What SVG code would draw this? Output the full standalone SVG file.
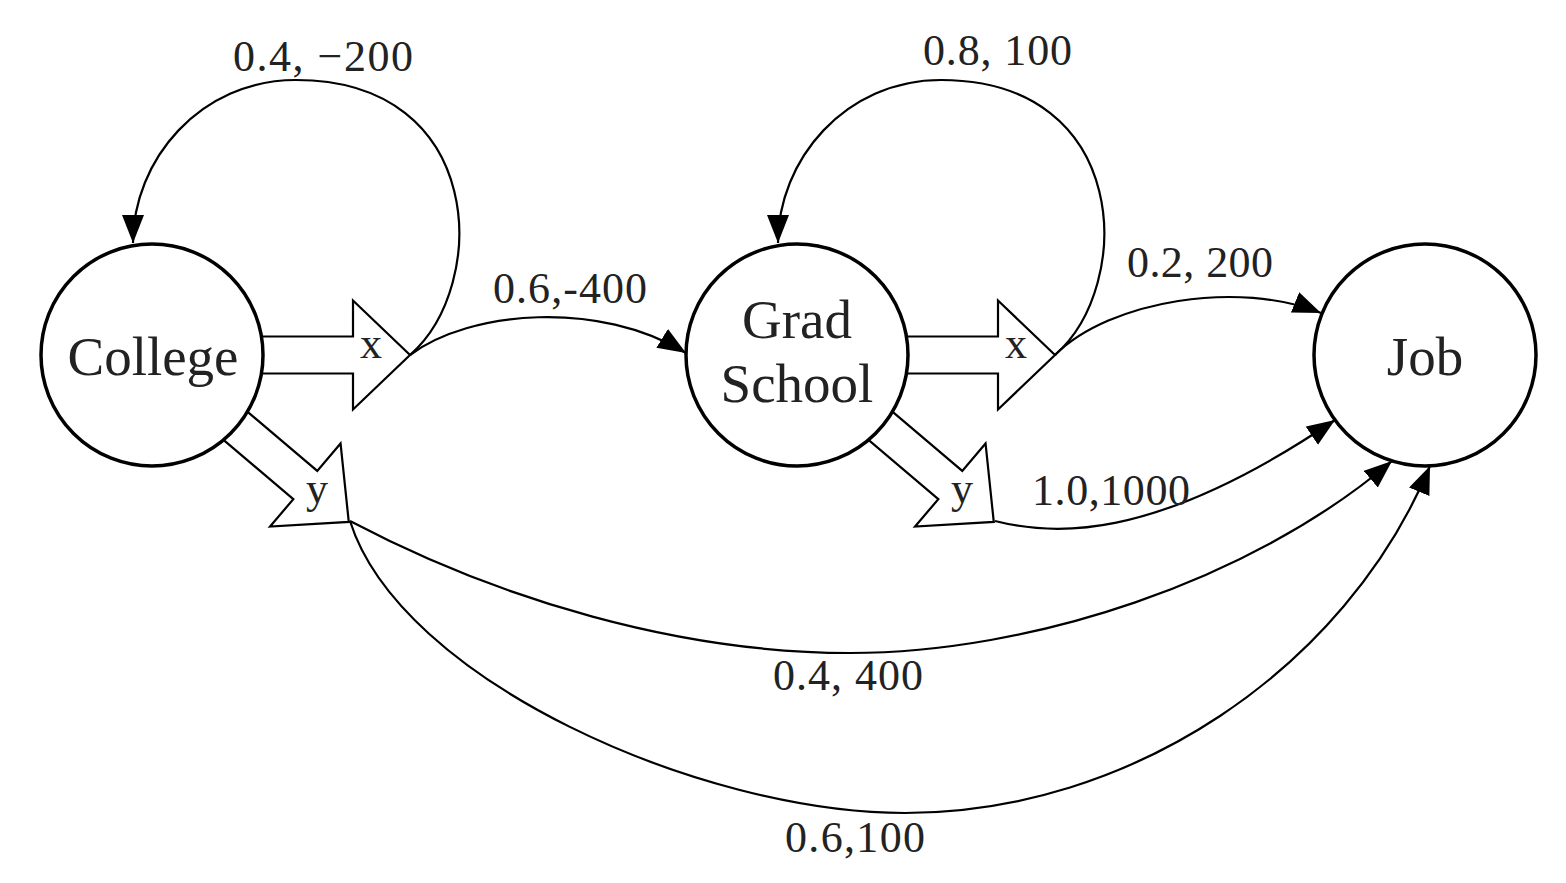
<svg xmlns="http://www.w3.org/2000/svg" xmlns:xlink="http://www.w3.org/1999/xlink" width="1566" height="883" viewBox="0 0 1566 883">
<style>
.node{fill:#fff;stroke:#000;stroke-width:3.5}
.ntxt{font-family:"Liberation Serif",serif;font-size:55px;fill:#222;text-anchor:middle}
.edge{fill:none;stroke:#000;stroke-width:2.2;marker-end:url(#ah)}
.blk{fill:#fff;stroke:#000;stroke-width:2.2}
.lbl{font-family:"Liberation Serif",serif;font-size:44px;fill:#222}
.act{font-family:"Liberation Serif",serif;font-size:44px;fill:#222;text-anchor:middle}
</style>
<defs>
<marker id="ah" markerUnits="userSpaceOnUse" markerWidth="30" markerHeight="24" refX="28" refY="11" orient="auto">
<path d="M0,0 L28,11 L0,22 Z" fill="#000"/>
</marker>
<path id="blkarrow" class="blk" d="M80,-18.5 H201 V-54.5 L258,0 L201,54.5 V18.5 H80 Z"/>
</defs>
<rect width="1566" height="883" fill="#fff"/>
<g id="connectors">
<use xlink:href="#blkarrow" href="#blkarrow" transform="translate(152,355)"/>
<use xlink:href="#blkarrow" href="#blkarrow" transform="translate(152,355) rotate(40.3)"/>
<use xlink:href="#blkarrow" href="#blkarrow" transform="translate(797,355)"/>
<use xlink:href="#blkarrow" href="#blkarrow" transform="translate(797,355) rotate(40.3)"/>
<text class="act" x="371" y="358">x</text>
<text class="act" x="317" y="503">y</text>
<text class="act" x="1016" y="358">x</text>
<text class="act" x="962" y="503">y</text>
<path class="edge" d="M410,355 C490,285 486,80 296,80 C200,80 133,160 133,243"/>
<path class="edge" d="M1055,355 C1135,285 1131,80 941,80 C845,80 778,160 778,243"/>
<path class="edge" d="M410,355 C470,310 600,300 686,353"/>
<path class="edge" d="M1055,355 C1110,300 1240,280 1321,313"/>
<path class="edge" d="M995,521 C1050,535 1150,545 1335,420"/>
<path class="edge" d="M350,521 C500,600 680,653 850,653 C1030,653 1250,582 1392,461"/>
<path class="edge" d="M350,521 C400,680 700,813 905,813 C1130,813 1345,670 1430,466"/>
<text class="lbl" x="233" y="71" textLength="180" lengthAdjust="spacing">0.4, −200</text>
<text class="lbl" x="493" y="303" textLength="154" lengthAdjust="spacing">0.6,-400</text>
<text class="lbl" x="923" y="65" textLength="149" lengthAdjust="spacing">0.8, 100</text>
<text class="lbl" x="1127" y="277" textLength="146" lengthAdjust="spacing">0.2, 200</text>
<text class="lbl" x="1032" y="505" textLength="158" lengthAdjust="spacing">1.0,1000</text>
<text class="lbl" x="773" y="690" textLength="150" lengthAdjust="spacing">0.4, 400</text>
<text class="lbl" x="785" y="852" textLength="140" lengthAdjust="spacing">0.6,100</text>
</g>
<g id="college">
<circle class="node" cx="152" cy="355" r="111"/>
<text class="ntxt" x="153" y="375">College</text>
</g>
<g id="grad-school">
<circle class="node" cx="797" cy="355" r="111"/>
<text class="ntxt" x="797" y="338">Grad</text>
<text class="ntxt" x="797" y="402">School</text>
</g>
<g id="job">
<circle class="node" cx="1425" cy="355" r="111"/>
<text class="ntxt" x="1425" y="375">Job</text>
</g>
</svg>
